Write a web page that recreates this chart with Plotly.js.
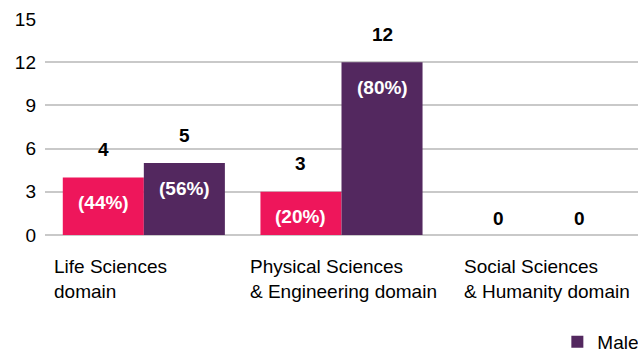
<!DOCTYPE html>
<html><head><meta charset="utf-8">
<script src="https://cdn.plot.ly/plotly-3.0.1.min.js"></script>
<style>html,body{margin:0;padding:0;background:#fff;} #chart{width:638px;height:350px;}</style>
</head><body><div id="chart"></div>
<script>
const categories = ['Life Sciences<br>domain', 'Physical Sciences<br>& Engineering domain', 'Social Sciences<br>& Humanity domain'];
const femaleCounts = [4, 3, 0];
const maleCounts = [5, 12, 0];
const femalePct = ['(44%)', '(20%)', ''];
const malePct = ['(56%)', '(80%)', ''];
const yTicks = [0, 3, 6, 9, 12, 15];
const seriesNames = ['Female', 'Male'];

const PINK = '#EE165B';
const PURPLE = '#53285F';
const FONT = 'Liberation Sans, Arial, sans-serif';
const idx = categories.map((c, i) => i);
const BARGAP = 0.18;
const off = (1 - BARGAP) / 4;

const traces = [
  {type: 'bar', name: seriesNames[0], x: idx, y: femaleCounts, marker: {color: PINK}, showlegend: false, hoverinfo: 'none'},
  {type: 'bar', name: seriesNames[1], x: idx, y: maleCounts, marker: {color: PURPLE}, showlegend: true, hoverinfo: 'none'}
];

const annotations = [];
const series = [[femaleCounts, femalePct, -off], [maleCounts, malePct, off]];
series.forEach(([vals, pcts, dx]) => {
  vals.forEach((v, i) => {
    annotations.push({x: i + dx, y: v, xref: 'x', yref: 'y', text: String(v), showarrow: false,
      yanchor: 'middle', yshift: v > 0 ? 28 : 17, font: {family: FONT, size: 19, color: '#000', weight: 'bold'}});
    if (pcts[i]) annotations.push({x: i + dx, y: v, xref: 'x', yref: 'y', text: pcts[i], showarrow: false,
      yanchor: 'middle', yshift: -25, font: {family: FONT, size: 19, color: '#fff', weight: 'bold'}});
  });
});
const labelShift = [7, 5, 22];
categories.forEach((c, i) => {
  annotations.push({x: i - 0.5, y: 0, xref: 'x', yref: 'y', text: c, showarrow: false, xanchor: 'left', yanchor: 'top',
    align: 'left', xshift: labelShift[i], yshift: -19, font: {family: FONT, size: 19, color: '#000'}});
});

const layout = {
  width: 638, height: 350,
  margin: {l: 45, r: 0, t: 19, b: 115, autoexpand: false},
  paper_bgcolor: '#fff', plot_bgcolor: '#fff',
  barmode: 'group', bargap: BARGAP, bargroupgap: 0,
  font: {family: FONT, size: 19, color: '#000'},
  xaxis: {type: 'linear', range: [-0.5, 2.5], showticklabels: false, showgrid: false, zeroline: false, ticks: '', fixedrange: true},
  yaxis: {range: [0, 15], tickvals: yTicks, ticktext: yTicks.map(String), showgrid: true, gridcolor: '#C9C9C9', gridwidth: 2,
    zeroline: true, zerolinecolor: '#C9C9C9', zerolinewidth: 2, ticks: '', ticklabelstandoff: 8,
    tickfont: {family: FONT, size: 19, color: '#000'}},
  showlegend: true,
  legend: {orientation: 'h', xref: 'paper', yref: 'paper', x: 0.864, y: -0.495, xanchor: 'left', yanchor: 'middle',
    font: {family: FONT, size: 19, color: '#000'}, bgcolor: 'rgba(0,0,0,0)'},
  annotations: annotations
};
Plotly.newPlot('chart', traces, layout, {displayModeBar: false, staticPlot: true});
</script></body></html>
